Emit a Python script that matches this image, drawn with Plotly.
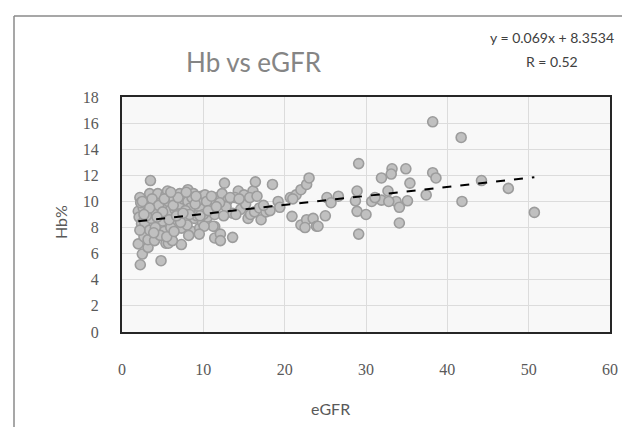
import plotly.graph_objects as go

# ---- data ----
egfr = [
    2.2, 2.0, 2.6, 2.1, 2.4, 2.0, 2.5, 2.25, 2.8, 2.3, 2.7, 2.9, 3.2, 3.2, 3.4, 3.5, 3.4, 3.1, 3.6, 3.8,
    4.2, 4.4, 4.2, 4.2, 4.8, 4.6, 4.0, 4.9, 5.4, 5.7, 5.2, 5.4, 5.4, 5.0, 5.6, 5.9, 5.7, 6.1, 6.5, 6.3,
    6.6, 6.0, 7.1, 7.3, 7.3, 7.0, 7.7, 7.5, 6.8, 8.1, 8.1, 8.9, 8.4, 8.6, 8.0, 8.8, 9.55, 9.75, 9.55, 9.2,
    9.4, 9.9, 10.2, 10.8, 10.5, 10.0, 11.8, 11.4, 11.4, 11.4, 11.2, 12.1, 12.1, 12.6, 12.3, 13.0, 13.6, 13.6, 12.8, 12.0,
    14.3, 14.9, 15.5, 14.6, 13.9, 15.2, 15.8, 16.1, 16.4, 16.3, 16.9, 17.1, 17.7, 18.5, 19.2, 19.4, 20.7, 20.9, 21.4, 22.0,
    22.7, 23.0, 22.0, 22.7, 23.5, 23.9, 22.5, 21.0, 15.0, 18.2,
    2.5, 2.2, 3.0, 3.7, 4.5, 4.1, 5.2, 5.0, 5.8, 6.3, 6.9, 6.2, 7.8, 7.2, 8.3, 8.6, 9.0, 9.6, 10.4, 10.6,
    11.0, 11.6, 12.5, 13.3, 14.0, 14.4, 15.7, 16.6, 17.4, 6.7, 4.7, 3.4, 7.9, 9.1, 2.7, 5.5, 6.4, 8.2, 10.1, 6.0,
    7.5, 4.3, 3.9, 9.5,
    38.2, 41.7, 29.1, 33.2, 34.9, 33.1, 31.9, 38.2, 38.6, 35.4, 44.2, 47.5, 37.4, 41.8, 28.9, 32.7, 28.7, 30.7, 31.9, 31.1,
    33.7, 35.1, 32.8, 34.1, 28.9, 30.0, 34.1, 29.1, 25.0, 25.2, 26.6, 25.7, 24.1, 50.7,
]
hb = [
    10.3, 9.25, 9.5, 8.8, 8.3, 6.75, 5.97, 5.15, 8.35, 9.9, 7.3, 10.0, 6.48, 7.07, 7.8, 11.6, 10.6, 9.2, 8.7, 9.8,
    10.0, 10.6, 9.0, 7.45, 5.46, 8.3, 7.0, 9.5, 10.5, 10.0, 7.7, 6.8, 9.0, 8.5, 10.8, 9.3, 6.8, 7.45, 9.4, 10.3,
    8.4, 8.0, 10.6, 7.96, 6.7, 9.8, 8.7, 10.2, 9.0, 10.9, 10.0, 8.7, 9.5, 7.7, 8.2, 10.6, 9.5, 10.4, 7.96, 8.9,
    10.1, 8.4, 10.5, 9.5, 8.8, 9.0, 10.3, 9.0, 8.08, 7.2, 8.1, 7.5, 7.0, 11.4, 10.6, 10.1, 9.1, 7.25, 9.6, 9.9,
    10.8, 10.0, 8.7, 9.4, 10.3, 9.8, 9.0, 10.8, 11.5, 9.2, 9.5, 8.6, 9.2, 11.3, 10.0, 9.55, 10.3, 8.86, 10.5, 10.9,
    11.3, 11.8, 8.2, 8.6, 8.7, 8.1, 8.0, 10.2, 10.5, 9.3,
    10.0, 7.8, 8.9, 10.2, 9.7, 8.0, 10.2, 9.2, 8.6, 9.7, 10.3, 7.0, 9.3, 8.4, 9.0, 10.3, 9.8, 8.9, 10.0, 9.3,
    10.4, 9.6, 8.9, 10.3, 9.0, 10.2, 10.3, 10.4, 9.7, 8.9, 7.4, 9.5, 10.7, 10.4, 9.0, 7.3, 7.7, 7.4, 8.1, 10.7,
    9.1, 8.8, 7.6, 7.5,
    16.1, 14.9, 12.9, 12.5, 12.5, 12.1, 11.8, 12.2, 11.8, 11.4, 11.6, 11.0, 10.5, 10.0, 10.8, 10.8, 10.05, 10.0, 10.1, 10.3,
    10.0, 10.05, 10.0, 9.55, 9.24, 9.0, 8.35, 7.5, 8.9, 10.3, 10.4, 9.9, 8.1, 9.16,
]

trend_slope = 0.069
trend_intercept = 8.3534
r_value = 0.52

chart_title = "Hb vs eGFR"
x_title = "eGFR"
y_title = "Hb%"
x_ticks = [0, 10, 20, 30, 40, 50, 60]
y_ticks = [0, 2, 4, 6, 8, 10, 12, 14, 16, 18]

# trendline across data range
x_min, x_max = min(egfr), max(egfr)
trend_x = [x_min, x_max]
trend_y = [trend_slope * v + trend_intercept for v in trend_x]

W, H = 630, 427
L, R, T, B = 114, 28, 89, 103
pw, ph = W - L - R, H - T - B


def px(xp):
    return (xp - L) / pw


def py(yp):
    return (H - B - yp) / ph


fig = go.Figure()
fig.add_trace(go.Scatter(
    x=egfr, y=hb, mode="markers",
    marker=dict(size=10, color="#c0c0c0", line=dict(color="#9c9c9c", width=1.6)),
    showlegend=False, hoverinfo="x+y",
))
fig.add_trace(go.Scatter(
    x=trend_x, y=trend_y, mode="lines",
    line=dict(color="black", width=2, dash="dash"),
    showlegend=False, hoverinfo="skip",
))

tick_font = dict(family="Liberation Serif, DejaVu Serif, serif", size=16, color="#595959")
sans = "Lato, Open Sans, sans-serif"

fig.update_layout(
    width=W, height=H,
    margin=dict(l=L, r=R, t=T, b=B),
    paper_bgcolor="white",
    plot_bgcolor="#f8f8f8",
    xaxis=dict(
        range=[0, 60], tickvals=x_ticks, ticktext=[str(v) for v in x_ticks],
        showgrid=True, gridcolor="#dcdcdc", gridwidth=1,
        showline=True, linecolor="#262626", linewidth=2, mirror=True,
        zeroline=False, ticks="", tickfont=tick_font, ticklabelstandoff=22,
    ),
    yaxis=dict(
        range=[0, 18], tickvals=y_ticks, ticktext=[str(v) for v in y_ticks],
        showgrid=True, gridcolor="#dcdcdc", gridwidth=1,
        showline=True, linecolor="#262626", linewidth=2, mirror=True,
        zeroline=False, ticks="", tickfont=tick_font, ticklabelstandoff=18,
    ),
    annotations=[
        dict(text=chart_title, xref="paper", yref="paper", x=px(246), y=py(54),
             showarrow=False, font=dict(family=sans, size=26, color="#858585"),
             xanchor="center", yanchor="middle"),
        dict(text=f"y = {trend_slope}x + {trend_intercept}", xref="paper", yref="paper",
             x=px(544), y=py(30), showarrow=False,
             font=dict(family=sans, size=14, color="#404040"), xanchor="center", yanchor="middle"),
        dict(text=f"R = {r_value}", xref="paper", yref="paper",
             x=px(544), y=py(54), showarrow=False,
             font=dict(family=sans, size=14, color="#404040"), xanchor="center", yanchor="middle"),
        dict(text=y_title, xref="paper", yref="paper", x=px(52), y=py(214),
             showarrow=False, textangle=-90,
             font=dict(family=sans, size=16, color="#595959"), xanchor="center", yanchor="middle"),
        dict(text=x_title, xref="paper", yref="paper", x=px(322), y=py(400),
             showarrow=False, font=dict(family=sans, size=16, color="#595959"),
             xanchor="center", yanchor="middle"),
    ],
    shapes=[
        dict(type="line", xref="paper", yref="paper", x0=px(6), x1=px(6), y0=py(8), y1=py(440),
             line=dict(color="#8a8a8a", width=1.5)),
        dict(type="line", xref="paper", yref="paper", x0=px(6), x1=px(640), y0=py(8), y1=py(8),
             line=dict(color="#8a8a8a", width=1.5)),
    ],
)

fig.write_html("out.html")
